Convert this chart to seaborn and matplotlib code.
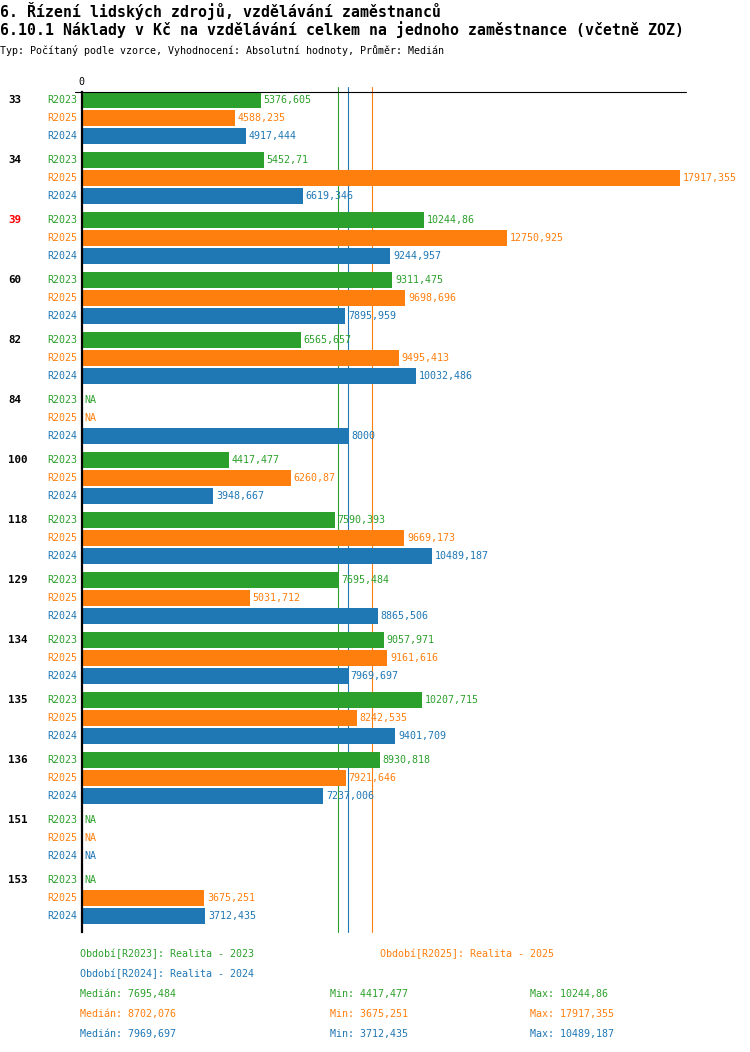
from decimal import Decimal, ROUND_HALF_UP
import numpy as np
import pandas as pd
import matplotlib
matplotlib.use("Agg")
import matplotlib.pyplot as plt
import matplotlib.transforms as mtransforms
import seaborn as sns

# data
groups = ["33", "34", "39", "60", "82", "84", "100", "118", "129", "134", "135", "136", "151", "153"]
series = ["R2023", "R2025", "R2024"]
r2023 = [5376.605, 5452.71, 10244.86, 9311.475, 6565.657, np.nan, 4417.477, 7590.393,
         7695.484, 9057.971, 10207.715, 8930.818, np.nan, np.nan]
r2025 = [4588.235, 17917.355, 12750.925, 9698.696, 9495.413, np.nan, 6260.87, 9669.173,
         5031.712, 9161.616, 8242.535, 7921.646, np.nan, 3675.251]
r2024 = [4917.444, 6619.346, 9244.957, 7895.959, 10032.486, 8000, 3948.667, 10489.187,
         8865.506, 7969.697, 9401.709, 7237.006, np.nan, 3712.435]
legend_names = {"R2023": "Realita - 2023", "R2025": "Realita - 2025", "R2024": "Realita - 2024"}
highlight = "39"

colors = {"R2023": "#2ca02c", "R2025": "#ff7f0e", "R2024": "#1f77b4"}
values = {"R2023": r2023, "R2025": r2025, "R2024": r2024}

rows = []
for s in series:
    for g, v in zip(groups, values[s]):
        rows.append({"group": g, "series": s, "value": v})
df = pd.DataFrame(rows)
df["plot_value"] = df["value"].fillna(0)


def fmt(v):
    if pd.isna(v):
        return "NA"
    # round away float noise first, then half-up to 3 decimals
    d = Decimal(repr(round(float(v), 6))).quantize(Decimal("0.001"), rounding=ROUND_HALF_UP)
    return str(d).rstrip("0").rstrip(".").replace(".", ",")


sns.set_style("white")
plt.rcParams["font.family"] = ["DejaVu Sans Mono", "DejaVu Sans"]
plt.rcParams["text.color"] = "black"

W, H = 750, 1052
fig = plt.figure(figsize=(W / 100, H / 100), dpi=100)
ax_l, ax_r, ax_t, ax_b = 81.5, 686, 92, 932
ax = fig.add_axes([ax_l / W, 1 - ax_b / H, (ax_r - ax_l) / W, (ax_b - ax_t) / H])


def fx(px):
    return px / W


def fy(py):
    return 1 - py / H


sns.barplot(data=df, x="plot_value", y="group", hue="series", order=groups,
            hue_order=series, palette=colors, orient="h", width=0.9, gap=0.11,
            linewidth=0, saturation=1, errorbar=None, legend=False, ax=ax, zorder=2)

ax.set_xlim(0, 18104)
ax.set_ylim(len(groups) - 1 + 0.567, -0.433)
ax.set_xlabel("")
ax.set_ylabel("")
ax.set_xticks([])
ax.set_yticks([])
for sp in ["top", "right", "bottom"]:
    ax.spines[sp].set_visible(False)
ax.spines["left"].set_linewidth(1.6)
ax.spines["left"].set_color("black")
ax.spines["left"].set_zorder(5)

# top line and zero label
ax.plot([-6.5 / (ax_r - ax_l), 1], [1, 1], color="black", lw=0.8,
        transform=ax.transAxes, clip_on=False, zorder=5)
ax.annotate("0", xy=(0, 1), xycoords=("data", "axes fraction"), xytext=(0, 5),
            textcoords="offset pixels", ha="center", va="bottom", fontsize=7.2)

# median lines behind the bars
stats = {}
for s in series:
    arr = np.array(values[s], dtype=float)
    arr = arr[~np.isnan(arr)]
    stats[s] = (np.median(arr), arr.min(), arr.max())
    ax.axvline(stats[s][0], ymin=0, ymax=1 + 5 / (ax_b - ax_t), color=colors[s],
               lw=0.8, zorder=1, clip_on=False)

# value labels, series labels and group labels
for s, cont in zip(series, ax.containers):
    labels = [fmt(v) for v in values[s]]
    ax.bar_label(cont, labels=labels, padding=2, color=colors[s], fontsize=7.2)
    for bar in cont:
        yc = bar.get_y() + bar.get_height() / 2
        ax.annotate(s, xy=(0, yc), xycoords="data", xytext=(-4, 0),
                    textcoords="offset pixels", ha="right", va="center",
                    color=colors[s], fontsize=7.2)

first = ax.containers[0]
trans = mtransforms.blended_transform_factory(fig.transFigure, ax.transData)
for g, bar in zip(groups, first):
    yc = bar.get_y() + bar.get_height() / 2
    ax.text(fx(8), yc, g, transform=trans, ha="left", va="center", fontsize=7.8,
            fontweight="bold", color="red" if g == highlight else "black")

# titles
fig.text(fx(0), fy(11), "6. Řízení lidských zdrojů, vzdělávání zaměstnanců",
         fontsize=10.7, fontweight="bold", va="center", ha="left")
fig.text(fx(0), fy(30), "6.10.1 Náklady v Kč na vzdělávání celkem na jednoho zaměstnance (včetně ZOZ)",
         fontsize=10.7, fontweight="bold", va="center", ha="left")
fig.text(fx(0), fy(50), "Typ: Počítaný podle vzorce, Vyhodnocení: Absolutní hodnoty, Průměr: Medián",
         fontsize=7.2, va="center", ha="left")

# legend block
legend_pos = {"R2023": (80, 954), "R2025": (380, 954), "R2024": (80, 974)}
for s in series:
    x, y = legend_pos[s]
    fig.text(fx(x), fy(y), f"Období[{s}]: {legend_names[s]}", color=colors[s],
             fontsize=7.2, va="center", ha="left")

for i, s in enumerate(series):
    med, mn, mx = stats[s]
    y = 994 + 20 * i
    fig.text(fx(80), fy(y), f"Medián: {fmt(med)}", color=colors[s], fontsize=7.2, va="center")
    fig.text(fx(330), fy(y), f"Min: {fmt(mn)}", color=colors[s], fontsize=7.2, va="center")
    fig.text(fx(530), fy(y), f"Max: {fmt(mx)}", color=colors[s], fontsize=7.2, va="center")

fig.savefig("out.png", dpi=100, facecolor="white")
